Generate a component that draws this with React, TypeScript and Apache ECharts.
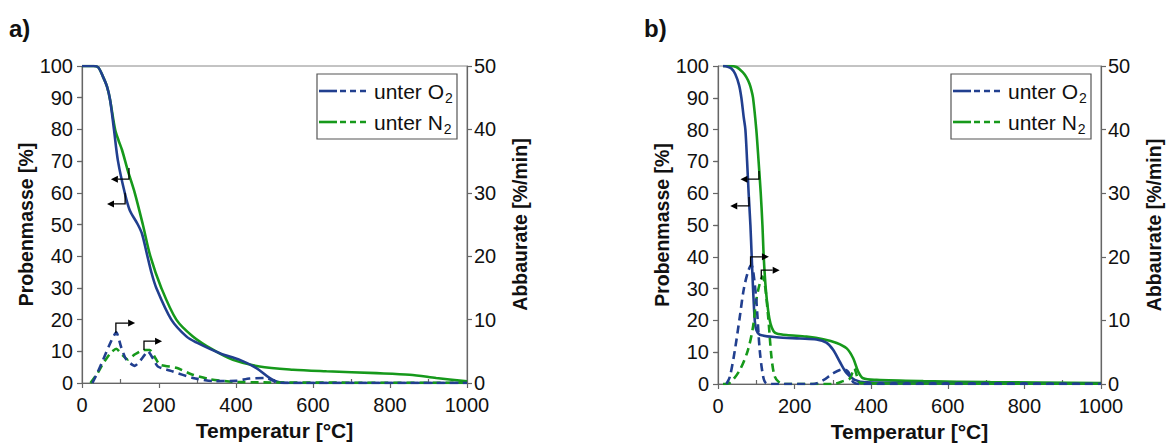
import React, { useEffect, useRef } from "react";
import * as echarts from "echarts";

// ---------- data (temperature °C, value) ----------
// Panel a) mass [%] (left axis)
const aO2Mass: number[][] = [
  [0, 100], [30, 100], [42, 99.6], [55, 96.5], [65, 93.5], [73, 89.3], [83, 80], [93.5, 70],
  [111, 60], [124, 54.5], [145, 50], [156, 47], [168, 41], [180, 35], [193, 30], [232, 20],
  [271, 14.7], [297, 12.8], [358, 9.4], [410, 7.3], [453, 4.7], [487, 1.6], [513, 0.2], [550, 0], [1000, 0],
];
const aN2Mass: number[][] = [
  [0, 100], [30, 100], [42, 99.6], [55, 96.5], [65, 93.5], [73, 89.3], [86, 80], [95, 76.5],
  [104, 73.5], [119, 67], [137, 60], [158, 50], [177.5, 40], [206, 30], [245, 20], [288, 14.7],
  [340, 10.5], [392, 7.3], [461, 5.2], [548, 4.2], [635, 3.7], [765, 3.1], [851, 2.6], [920, 1.6], [1000, 0.5],
];
// Panel a) rate [%/min] (right axis)
const aO2Rate: number[][] = [
  [27, 0], [40, 1.6], [55, 3.7], [75, 6.5], [89, 8.0], [102, 5.6], [115, 3.7], [137, 2.7], [155, 3.8],
  [171, 5.0], [185, 3.8], [197, 2.6], [236, 1.8], [288, 0.8], [340, 0.3], [401, 0.35], [435, 0.7],
  [479, 0.8], [505, 0.1], [530, 0], [1000, 0],
];
const aN2Rate: number[][] = [
  [22, 0], [40, 1.5], [55, 3.1], [75, 4.8], [89, 5.4], [105, 4.4], [119, 3.7], [137, 4.5], [160, 5.2],
  [176, 5.2], [190, 4.0], [202, 2.9], [245, 2.4], [288, 1.3], [332, 0.6], [392, 0.2], [461, 0.1], [700, 0.05], [1000, 0.05],
];
// Panel b) mass [%]
const bO2Mass: number[][] = [
  [13, 100], [25, 99.8], [35, 99.2], [45, 97.5], [55, 94], [61, 90], [67, 84], [71.5, 80], [76, 70],
  [80, 60], [84.6, 50], [88, 40], [91.5, 30], [96, 20], [100, 17], [109, 15.5], [153, 14.7], [214, 14.3],
  [257, 14.0], [283, 13.0], [301, 10.7], [318, 7.0], [336, 3.4], [357, 1.3], [388, 0.5], [536, 0.3], [1000, 0.1],
];
const bN2Mass: number[][] = [
  [13, 100], [30, 100], [48, 99.7], [65, 98], [74, 96.5], [82, 94.5], [87, 92.5], [91.5, 90], [100, 80],
  [106, 70], [111.6, 60], [116, 50], [119.4, 40], [124.7, 30], [131, 23], [137, 19], [145, 16.6],
  [153, 15.9], [179, 15.4], [231, 14.9], [275, 14.1], [310, 12.9], [336, 11.2], [353, 8.1], [366, 3.9],
  [379, 1.8], [414, 1.3], [536, 0.9], [711, 0.6], [1000, 0.3],
];
// Panel b) rate [%/min]
const bO2Rate: number[][] = [
  [22, 0], [31, 1.15], [44, 5.3], [57, 10.6], [67, 14.8], [78, 17.6], [87, 18.7], [91.5, 17.9], [100, 13.2],
  [109, 5.3], [118, 1.15], [126, 0.1], [140, 0], [248, 0], [275, 0.6], [301, 1.7], [327, 2.3], [340, 1.9],
  [353, 0.3], [370, 0], [1000, 0],
];
const bN2Rate: number[][] = [
  [13, 0], [31, 0.2], [57, 2.2], [78, 5.3], [91.5, 9], [100, 13.2], [109, 15.8], [116, 16.9], [122, 15.8],
  [131, 10.6], [139.5, 4.3], [148, 1.2], [161, 0.2], [175, 0], [301, 0], [327, 0.45], [344, 0.85],
  [356, 2.45], [362, 1.4], [370, 0.2], [400, 0.1], [1000, 0.05],
];

// Annotation arrows in data units (T, mass %): [x, yStart, yEnd, xTip]
const aArrows: number[][] = [
  [122, 67.8, 64.3, 75], [112, 60, 56.5, 65], [88, 15.8, 18.9, 138], [161, 10.4, 13.2, 208],
];
const bArrows: number[][] = [
  [107, 67, 64.4, 58.6], [81, 58.8, 56, 32], [85, 36.9, 40, 133], [113, 32.9, 35.8, 161],
];

const xTicks = [0, 200, 400, 600, 800, 1000];
const xMinorTicks = [100, 300, 500, 700, 900];
const rMinorTicks = [5, 15, 25, 35, 45];

const BLUE = "#213f8f";
const GREEN = "#16991b";
const AX = "#666666";
const FONT = "'Liberation Sans', Arial, sans-serif";

const grids = [
  { left: 82, top: 66, width: 385, height: 317 },
  { left: 718, top: 66, width: 383, height: 318 },
];

export default function App() {
  const ref = useRef<HTMLDivElement>(null);
  useEffect(() => {
    document.body.style.margin = "0";
    document.body.style.overflow = "hidden";
    const chart = echarts.init(ref.current!, null, { renderer: "svg" });

    const xAxes: any[] = [];
    const yAxes: any[] = [];
    const series: any[] = [];
    const labelStyle = { fontSize: 20, color: "#111", fontFamily: FONT, formatter: (v: number) => String(v) };
    const nameStyle = { fontSize: 21, fontWeight: "bold", color: "#111", fontFamily: FONT };

    [0, 1].forEach((gi) => {
      xAxes.push({
        type: "value", gridIndex: gi, min: 0, max: 1000, interval: 200, position: "bottom",
        axisLine: { show: true, onZero: false, lineStyle: { color: AX, width: 1.2 } },
        axisTick: { show: true, length: 5, lineStyle: { color: AX, width: 1.2 } },
        axisLabel: { ...labelStyle, margin: 12, customValues: xTicks },
        splitLine: { show: false },
        name: "Temperatur [°C]", nameLocation: "middle", nameGap: 35, nameTextStyle: nameStyle,
      });
      xAxes.push({
        type: "value", gridIndex: gi, min: 0, max: 1000, interval: 100, position: "bottom",
        axisLine: { show: false },
        axisTick: { show: true, inside: true, length: 4, customValues: xMinorTicks, lineStyle: { color: AX, width: 1.2 } },
        axisLabel: { show: false }, splitLine: { show: false },
      });
      yAxes.push({
        type: "value", gridIndex: gi, min: 0, max: 100, interval: 10, position: "left",
        axisLine: { show: true, onZero: false, lineStyle: { color: AX, width: 1.2 } },
        axisTick: { show: true, length: 5, lineStyle: { color: AX, width: 1.2 } },
        axisLabel: { ...labelStyle, margin: 9 },
        splitLine: { show: false },
        name: "Probenmasse [%]", nameLocation: "middle", nameGap: 45, nameRotate: 90,
        nameTextStyle: { ...nameStyle, fontSize: 19.5 },
      });
      yAxes.push({
        type: "value", gridIndex: gi, min: 0, max: 50, interval: 10, position: "right",
        axisLine: { show: true, onZero: false, lineStyle: { color: AX, width: 1.2 } },
        axisTick: { show: true, length: 5, lineStyle: { color: AX, width: 1.2 } },
        axisLabel: { ...labelStyle, margin: 7 },
        splitLine: { show: false },
        name: "Abbaurate [%/min]", nameLocation: "middle", nameGap: 43, nameRotate: 90,
        nameTextStyle: { ...nameStyle, fontSize: 19.5 },
      });
      yAxes.push({
        type: "value", gridIndex: gi, min: 0, max: 50, interval: 5, position: "right",
        axisLine: { show: false },
        axisTick: { show: true, inside: true, length: 4, customValues: rMinorTicks, lineStyle: { color: AX, width: 1.2 } },
        axisLabel: { show: false }, splitLine: { show: false },
      });
    });

    const mk = (name: string, data: number[][], gi: number, rate: boolean, color: string, smooth: number) => ({
      type: "line", name, data, xAxisIndex: gi * 2, yAxisIndex: gi * 3 + (rate ? 1 : 0),
      showSymbol: false, symbol: "none", smooth, silent: true,
      lineStyle: { color, width: 2.6, type: rate ? [8, 5] : "solid" },
    });
    series.push(
      mk("unter N₂", aN2Mass, 0, false, GREEN, 0.3),
      mk("unter O₂", aO2Mass, 0, false, BLUE, 0.3),
      mk("unter N₂", aN2Rate, 0, true, GREEN, 0.2),
      mk("unter O₂", aO2Rate, 0, true, BLUE, 0.2),
      mk("unter N₂", bN2Mass, 1, false, GREEN, 0.3),
      mk("unter O₂", bO2Mass, 1, false, BLUE, 0.3),
      mk("unter N₂", bN2Rate, 1, true, GREEN, 0.3),
      mk("unter O₂", bO2Rate, 1, true, BLUE, 0.3),
    );

    chart.setOption({
      animation: false,
      backgroundColor: "#ffffff",
      grid: grids.map((g) => ({
        ...g, show: true, borderColor: "#888", borderWidth: 1, backgroundColor: "transparent",
        containLabel: false, outerBoundsMode: "none",
      })),
      xAxis: xAxes,
      yAxis: yAxes,
      series,
    });

    const graphic: any[] = [];
    // panel labels
    graphic.push({ type: "text", left: 9, top: 16, style: { text: "a)", font: `bold 24px ${FONT}`, fill: "#111" } });
    graphic.push({ type: "text", left: 644, top: 16, style: { text: "b)", font: `bold 24px ${FONT}`, fill: "#111" } });

    // legends
    grids.forEach((g) => {
      const L = g.left + g.width - 150;
      const T = g.top + 8;
      graphic.push({ type: "rect", shape: { x: L, y: T, width: 140, height: 65 }, style: { fill: "#fff", stroke: "#555", lineWidth: 1.2 }, z: 10 });
      [
        { c: BLUE, t: "O", y: T + 17 },
        { c: GREEN, t: "N", y: T + 48 },
      ].forEach((r) => {
        graphic.push({ type: "line", shape: { x1: L + 2, y1: r.y, x2: L + 20, y2: r.y }, style: { stroke: r.c, lineWidth: 2.6 }, z: 11 });
        graphic.push({ type: "line", shape: { x1: L + 23, y1: r.y, x2: L + 50, y2: r.y }, style: { stroke: r.c, lineWidth: 2.6, lineDash: [6, 4] }, z: 11 });
        graphic.push({
          type: "text", x: L + 57, y: r.y, z: 11,
          style: {
            text: `{m|unter ${r.t}}{s|2}`, verticalAlign: "middle", fill: "#111",
            rich: {
              m: { fontSize: 21, fontFamily: FONT, fill: "#111", lineHeight: 27 },
              s: { fontSize: 14, fontFamily: FONT, fill: "#111", lineHeight: 14, verticalAlign: "bottom", padding: [0, 0, 0, 1] },
            },
          },
        });
      });
    });

    // arrows
    const drawArrows = (arrows: number[][], gi: number) => {
      arrows.forEach(([x, y0, y1, xt]) => {
        const f = { xAxisIndex: gi * 2, yAxisIndex: gi * 3 };
        const p0 = chart.convertToPixel(f, [x, y0]) as number[];
        const p1 = chart.convertToPixel(f, [x, y1]) as number[];
        const p2 = chart.convertToPixel(f, [xt, y1]) as number[];
        const dir = p2[0] > p1[0] ? 1 : -1;
        const hl = 7, hw = 3.5;
        graphic.push({
          type: "polyline", z: 12,
          shape: { points: [p0, p1, [p2[0] - dir * hl, p2[1]]] },
          style: { stroke: "#000", lineWidth: 1.3, fill: "none" },
        });
        graphic.push({
          type: "polygon", z: 12,
          shape: { points: [[p2[0], p2[1]], [p2[0] - dir * hl, p2[1] - hw], [p2[0] - dir * hl, p2[1] + hw]] },
          style: { fill: "#000" },
        });
      });
    };
    drawArrows(aArrows, 0);
    drawArrows(bArrows, 1);

    chart.setOption({ graphic });
    return () => chart.dispose();
  }, []);
  return <div ref={ref} style={{ width: 1167, height: 443, overflow: "hidden" }} />;
}
